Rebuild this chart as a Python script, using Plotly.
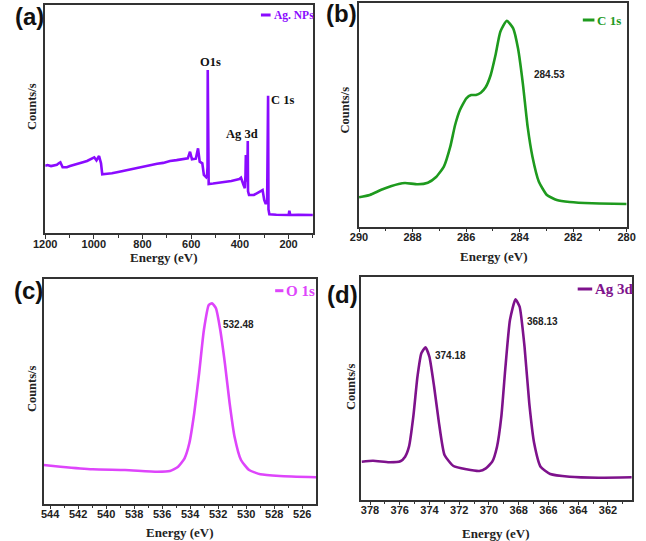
import plotly.graph_objects as go

W, H = 646, 541

# ---------------- data (arbitrary count units) ----------------
# (a) survey
energy_a = [1200, 1190.5, 1176, 1164.2, 1152, 1144.3, 1137.6, 1128.4, 1111, 1098, 1084.7, 1065, 1045,
            1028, 1011.6, 998.4, 989.3, 978.6, 970.6, 965.5, 945, 925.7, 900, 870, 846.2, 820, 795,
            766.7, 740, 715, 687.2, 660, 635, 614, 604.9, 596.9, 581, 571.9, 565.1, 554.4, 548,
            538.5, 535, 533, 532.1, 531, 529.5, 528.2, 510, 488.4, 460, 435.1, 402.1, 395.4, 385,
            379.5, 377, 375.5, 374, 370, 369, 367.6, 366.5, 362.4, 342.5, 315.9, 306.7, 300, 293.6,
            288, 284.1, 282.5, 278.9, 250, 223.3, 199.4, 196.8, 192.7, 160, 130, 100]
counts_a = [67.6, 68.3, 67.2, 67.6, 68.6, 70, 71, 66, 66, 67.2, 68, 69.4, 71,
            72.3, 74, 76, 73, 77.3, 70, 59, 59.6, 60, 61.4, 63, 64, 65.6, 66.5,
            68.3, 69.6, 70.4, 72.3, 73.2, 74.4, 75, 81.6, 74, 74.6, 85, 71.6, 70, 58.3,
            56, 58, 66, 163.3, 54, 50, 49.3, 49.8, 50.6, 51.5, 52.3, 54.3, 55.6, 48.3,
            45, 58, 78.3, 52, 55, 62, 92.3, 42, 38.3, 38.3, 41.6, 43.3, 33.3, 29.3,
            32, 137.6, 24, 19, 18.6, 18.3, 18.3, 22.6, 18.3, 18.5, 18.2, 18.3]

# (b) C 1s
energy_b = [290, 289.6, 289.12, 288.52, 288.28, 287.8, 287.43, 287.13, 286.83, 286.59, 286.41,
            286.23, 285.99, 285.81, 285.63, 285.45, 285.27, 285.08, 284.9, 284.72, 284.48,
            284.24, 284.06, 283.88, 283.7, 283.52, 283.28, 282.98, 282.61, 282.13, 281.29, 280]
counts_b = [29.7, 32, 37.7, 43, 44, 42.7, 44.3, 49.7, 60.3, 80.3, 102,
            117, 128.7, 132, 132, 134.3, 139.7, 152, 172, 195.3, 206.3,
            198.7, 178.7, 143.7, 100.3, 70.3, 45.3, 32, 27, 25, 23.7, 23]

# (c) O 1s
energy_c = [544.46, 543.26, 540.96, 538.65, 536.35, 535.44, 534.86, 534.40, 534.06, 533.71, 533.36,
            533.02, 532.67, 532.44, 532.16, 531.87, 531.52, 531.18, 530.83, 530.37, 529.79,
            528.99, 527.60, 525.01]
counts_c = [39, 37.3, 34.7, 34, 32.3, 33, 37.3, 45.7, 60.7, 90.7, 130.7,
            174, 199, 200.7, 195.7, 175.7, 140.7, 100.7, 67.3, 44, 34,
            29.7, 28, 26.7]

# (d) Ag 3d
energy_d = [378.56, 377.80, 376.72, 375.96, 375.64, 375.38, 375.09, 374.81, 374.55, 374.27, 374.01,
            373.69, 373.36, 372.99, 372.39, 371.52, 370.65, 370.21, 369.78, 369.46, 369.17,
            368.91, 368.59, 368.22, 367.94, 367.61, 367.29, 366.96, 366.53, 365.88, 364.58,
            362.63, 360.4]
counts_d = [38.3, 39.3, 37.7, 38.7, 43.3, 53.3, 83.3, 123.3, 146.7, 152.7, 143.3,
            113.3, 76.7, 45, 34, 30.7, 29, 31.7, 38.3, 53.3, 83.3,
            130, 180, 200.7, 193.3, 153.3, 96.7, 56.7, 33.3, 26, 23.3,
            22.3, 22.7]

ticks_a = [1200, 1000, 800, 600, 400, 200]
ticks_b = [290, 288, 286, 284, 282, 280]
ticks_c = [544, 542, 540, 538, 536, 534, 532, 530, 528, 526]
ticks_d = [378, 376, 374, 372, 370, 368, 366, 364, 362]

peak_labels_a = ["O1s", "Ag 3d", "C 1s"]
peak_label_pos_a = [(521.4, 171.3), (391, 99), (223.3, 133.3)]
value_labels = {"x2": [("284.53", 282.87, 152)],
                "x3": [("532.48", 530.57, 179.7)],
                "x4": [("374.18", 372.56, 145), ("368.13", 366.38, 179)]}

series_names = ["Ag. NPs", "C 1s", "O 1s", "Ag 3d"]
colors = ["#8A0BFF", "#1E9A1E", "#DE45FB", "#7E128C"]

# ---------------- layout helpers ----------------
def px_x(p):
    return p / W

def px_y(p):
    return 1 - p / H

# panel boxes in pixels: left, right, top, bottom
boxes = [(34.3, 311, 4.7, 233.3), (358.7, 635.3, 3, 227), (32.7, 314.3, 279.3, 504), (361, 640.7, 277.3, 500)]
xranges = [[1200, 100], [290, 280], [544.46, 525.01], [378.59, 360.39]]
yranges = [[0, 228.6], [0, 224], [0, 224.7], [0, 222.7]]
tickvals = [ticks_a, ticks_b, ticks_c, ticks_d]
minor_dt = [100, 1, 1, 1]
xs = [energy_a, energy_b, energy_c, energy_d]
ys = [counts_a, counts_b, counts_c, counts_d]

fig = go.Figure()
axis_col = "#333333"
for i in range(4):
    sfx = "" if i == 0 else str(i + 1)
    fig.add_trace(go.Scatter(x=xs[i], y=ys[i], mode="lines", xaxis="x" + sfx, yaxis="y" + sfx,
                             line=dict(color=colors[i], width=2.6,
                                       shape="linear" if i == 0 else "spline", smoothing=0.5),
                             showlegend=False, hoverinfo="skip"))
    l, r, t, b = boxes[i]
    fig.layout["xaxis" + sfx] = dict(domain=[px_x(l), px_x(r)], range=xranges[i], autorange=False,
                                     anchor="y" + sfx, showline=True, mirror=True, linecolor=axis_col,
                                     linewidth=1.5, ticks="outside", ticklen=3.5, tickwidth=1.3,
                                     tickcolor=axis_col, tickvals=tickvals[i], showgrid=False, zeroline=False,
                                     ticklabelstandoff=-4,
                                     tickfont=dict(family="Liberation Sans", size=11, color="#222", weight="bold"),
                                     minor=dict(ticks="outside", ticklen=2.5, tickwidth=1.1, tickcolor=axis_col,
                                                dtick=minor_dt[i], tick0=0, showgrid=False))
    fig.layout["yaxis" + sfx] = dict(domain=[px_y(b), px_y(t)], range=yranges[i], autorange=False,
                                     anchor="x" + sfx, showline=True, mirror=True, linecolor=axis_col,
                                     linewidth=1.5, showticklabels=False, ticks="", showgrid=False,
                                     zeroline=False)

ann = []
shapes = []
serif = "Liberation Serif"
sans = "Liberation Sans"

# panel letters
for txt, (cx, cy) in zip(["(a)", "(b)", "(c)", "(d)"], [(18, 16), (340.5, 14), (17, 290), (342, 294)]):
    ann.append(dict(text=txt, x=px_x(cx), y=px_y(cy), xref="paper", yref="paper", showarrow=False,
                    xanchor="center", yanchor="middle",
                    font=dict(family=sans, size=24, color="#111", weight="bold")))

# axis titles
for (cx, cy) in [(156.7, 257.5), (498, 256.5), (173.8, 532.5), (500.3, 533.5)]:
    ann.append(dict(text="Energy (eV)", x=px_x(cx), y=px_y(cy), xref="paper", yref="paper",
                    showarrow=False, xanchor="center", yanchor="middle",
                    font=dict(family=serif, size=13, color="#222", weight="bold")))
for (cx, cy) in [(20.7, 107), (344.7, 110), (20.8, 389), (350.5, 387)]:
    ann.append(dict(text="Counts/s", x=px_x(cx), y=px_y(cy), xref="paper", yref="paper",
                    showarrow=False, xanchor="center", yanchor="middle", textangle=-90,
                    font=dict(family=serif, size=12.5, color="#222", weight="bold")))

# legends (short line + text)
leg = [((257.3, 267.3, 15), 11.5), ((590, 602, 20), 13), ((272, 280.5, 290.7), 15), ((584.7, 599.7, 289), 15)]
for i, ((x0, x1, yy), fs) in enumerate(leg):
    shapes.append(dict(type="line", xref="paper", yref="paper", x0=px_x(x0), x1=px_x(x1),
                       y0=px_y(yy), y1=px_y(yy), line=dict(color=colors[i], width=3)))
    ann.append(dict(text=series_names[i], x=px_x(x1 + 1), y=px_y(yy), xref="paper", yref="paper",
                    showarrow=False, xanchor="left", yanchor="middle",
                    font=dict(family=serif, size=fs, color=colors[i], weight="bold")))

# survey peak labels
for txt, (ex, cy) in zip(peak_labels_a, peak_label_pos_a):
    ann.append(dict(text=txt, x=ex, y=cy, xref="x", yref="y", showarrow=False,
                    xanchor="center", yanchor="middle",
                    font=dict(family=serif, size=12.5, color="#111", weight="bold")))

# peak value labels
for ax, items in value_labels.items():
    for txt, ex, cy in items:
        ann.append(dict(text=txt, x=ex, y=cy, xref=ax, yref="y" + ax[1:], showarrow=False,
                        xanchor="center", yanchor="middle",
                        font=dict(family=sans, size=10, color="#222", weight="bold")))

fig.update_layout(width=W, height=H, margin=dict(l=0, r=0, t=0, b=0),
                  paper_bgcolor="white", plot_bgcolor="white",
                  annotations=ann, shapes=shapes, showlegend=False)

fig.write_html("out.html", config={"displayModeBar": False},
               post_script="document.body.style.margin='0';document.body.style.padding='0';"
                           "document.body.style.overflow='hidden';")
